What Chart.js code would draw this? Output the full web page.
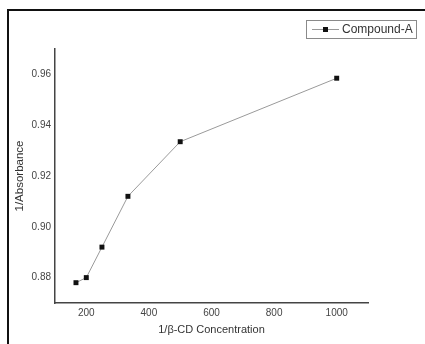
<!DOCTYPE html>
<html>
<head>
<meta charset="utf-8">
<script src="https://cdn.jsdelivr.net/npm/chart.js@4/dist/chart.umd.min.js"></script>
<style>
  html, body { margin: 0; padding: 0; background: #fff; overflow: hidden; }
  #wrap { position: relative; width: 425px; height: 344px; }
  #frame { position: absolute; left: 7px; top: 9px; width: 440px; height: 360px; border: 2px solid #111; box-sizing: border-box; }
  canvas { position: absolute; left: 0; top: 0; }
</style>
</head>
<body>
<div id="wrap">
  <div id="frame"></div>
  <canvas id="chart" width="425" height="344"></canvas>
</div>
<script>
// data
const concentration = [167, 200, 250, 333, 500, 1000];
const absorbance = [0.878, 0.880, 0.892, 0.912, 0.9335, 0.9585];
const seriesName = 'Compound-A';
const xTicks = [200, 400, 600, 800, 1000];
const yTicks = [0.88, 0.90, 0.92, 0.94, 0.96];

const FONT = 'Liberation Sans, Arial, sans-serif';

// legend box drawn in the top right corner
const boxLegend = {
    id: 'boxLegend',
    afterDraw(chart) {
        const ctx = chart.ctx;
        ctx.save();
        ctx.strokeStyle = '#8a8a8a';
        ctx.lineWidth = 1;
        ctx.strokeRect(306.5, 20.5, 110, 18);
        ctx.strokeStyle = '#999';
        ctx.beginPath();
        ctx.moveTo(312, 29.5);
        ctx.lineTo(339, 29.5);
        ctx.stroke();
        ctx.fillStyle = '#111';
        ctx.fillRect(323, 27, 5, 5);
        ctx.fillStyle = '#333';
        ctx.font = '12px ' + FONT;
        ctx.textBaseline = 'middle';
        ctx.fillText(seriesName, 342, 30);
        ctx.restore();
    }
};

new Chart(document.getElementById('chart'), {
    type: 'line',
    data: {
        datasets: [{
            label: seriesName,
            data: concentration.map((x, i) => ({ x: x, y: absorbance[i] })),
            borderColor: '#9a9a9a',
            borderWidth: 1,
            pointStyle: 'rect',
            pointRadius: 3.5,
            pointBackgroundColor: '#111',
            pointBorderColor: '#111',
            pointBorderWidth: 0,
            tension: 0
        }]
    },
    options: {
        responsive: false,
        animation: false,
        layout: { padding: { top: 49, right: 57, left: 0, bottom: 0 } },
        plugins: {
            legend: { display: false },
            tooltip: { enabled: false }
        },
        scales: {
            x: {
                type: 'linear',
                min: 100,
                max: 1100,
                afterBuildTicks: (s) => { s.ticks = xTicks.map(v => ({ value: v })); },
                afterFit: (s) => { s.height = 41; },
                grid: { display: false, drawTicks: false },
                border: { display: true, color: '#444', width: 1.5 },
                ticks: { color: '#444', font: { family: FONT, size: 10 }, padding: 4, maxRotation: 0, callback: (v) => String(v) },
                title: { display: true, text: '1/β-CD Concentration', color: '#333', font: { family: FONT, size: 11 }, padding: { top: 0, bottom: 7 } }
            },
            y: {
                type: 'linear',
                min: 0.87,
                max: 0.97,
                afterBuildTicks: (s) => { s.ticks = yTicks.map(v => ({ value: v })); },
                afterFit: (s) => { s.width = 55; },
                grid: { display: false, drawTicks: false },
                border: { display: true, color: '#444', width: 1.5 },
                ticks: { color: '#444', font: { family: FONT, size: 10 }, padding: 4, callback: (v) => v.toFixed(2) },
                title: { display: true, text: '1/Absorbance', color: '#333', font: { family: FONT, size: 11.5 }, padding: { top: 13, bottom: 0 } }
            }
        }
    },
    plugins: [boxLegend]
});
</script>
</body>
</html>
